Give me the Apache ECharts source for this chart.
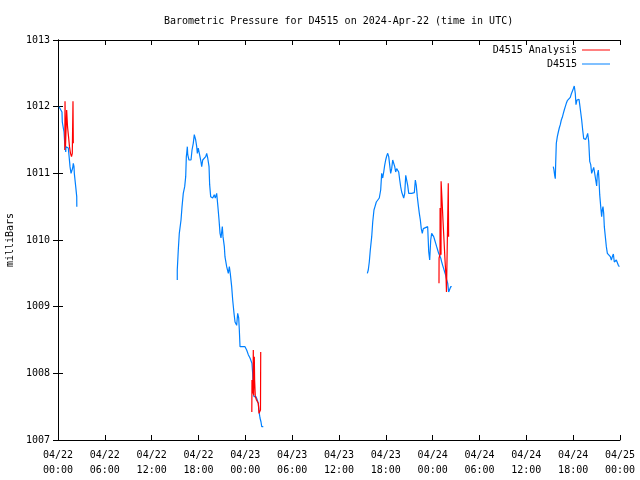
<!DOCTYPE html>
<html>
<head>
<meta charset="utf-8">
<script src="https://cdn.jsdelivr.net/npm/echarts@6/dist/echarts.min.js"></script>
<style>
html,body{margin:0;padding:0;background:#fff;}
#chart{width:640px;height:480px;}
</style>
</head>
<body>
<div id="chart"></div>
<script>
// Hours since 2024-04-22 00:00 UTC
const xTickLabels = ["04/22\n00:00","04/22\n06:00","04/22\n12:00","04/22\n18:00","04/23\n00:00","04/23\n06:00","04/23\n12:00","04/23\n18:00","04/24\n00:00","04/24\n06:00","04/24\n12:00","04/24\n18:00","04/25\n00:00"];
const yTicks = [1007,1008,1009,1010,1011,1012,1013];

// D4515 observed pressure, segment 1
const obsHours1 = [0.13,0.26,0.38,0.51,0.55,0.68,0.77,0.86,0.99,1.02,1.19,1.32,1.41,1.54,1.67,1.79,1.88,1.96,2.05,2.09,2.18,2.27,2.40,2.41];
const obsMbar1  = [1012.0,1012.0,1011.97,1011.92,1011.77,1011.68,1011.62,1011.45,1011.32,1011.4,1011.43,1011.38,1011.27,1011.1,1011.0,1011.0,1011.08,1011.15,1011.1,1011.0,1010.97,1010.8,1010.65,1010.5];

// segment 2
const obsHours2 = [15.28,15.28,15.41,15.54,15.76,15.89,16.05,16.23,16.36,16.44,16.49,16.57,16.62,16.78,17.04,17.17,17.33,17.46,17.59,17.64,17.77,17.85,17.97,18.10,18.19,18.32,18.41,18.54,18.70,18.92,19.05,19.18,19.35,19.43,19.56,19.69,19.82,20.02,20.15,20.33,20.50,20.63,20.76,20.88,20.97,21.05,21.14,21.31,21.39,21.61,21.82,21.95,22.07,22.25,22.38,22.46,22.55,22.68,22.89,23.02,23.15,23.23,23.32,23.96,24.17,24.38,24.60,24.85,24.94,25.02,25.11,25.37,25.53,25.66,25.79,25.88,26.01,26.10,26.30];
const obsMbar2  = [1009.4,1009.55,1009.85,1010.1,1010.3,1010.5,1010.7,1010.8,1010.95,1011.25,1011.3,1011.4,1011.28,1011.2,1011.2,1011.35,1011.45,1011.58,1011.6,1011.5,1011.4,1011.3,1011.38,1011.35,1011.25,1011.17,1011.1,1011.2,1011.22,1011.25,1011.3,1011.23,1011.1,1010.83,1010.65,1010.68,1010.63,1010.68,1010.63,1010.7,1010.48,1010.3,1010.1,1010.03,1010.12,1010.2,1010.05,1009.9,1009.75,1009.6,1009.5,1009.6,1009.5,1009.3,1009.1,1009.1,1008.9,1008.77,1008.72,1008.9,1008.83,1008.65,1008.4,1008.4,1008.35,1008.28,1008.23,1008.15,1008.0,1007.7,1007.65,1007.65,1007.6,1007.55,1007.4,1007.33,1007.27,1007.2,1007.2];

// segment 3
const obsHours3 = [39.63,39.75,39.88,40.01,40.19,40.32,40.48,40.61,40.78,40.91,41.03,41.16,41.34,41.47,41.60,41.73,41.85,41.98,42.11,42.24,42.37,42.50,42.62,42.75,42.88,43.01,43.14,43.26,43.39,43.52,43.65,43.78,43.90,44.03,44.16,44.29,44.42,44.55,44.67,44.80,44.93,45.31,45.65,45.78,45.90,46.03,46.16,46.29,46.42,46.54,46.67,46.80,46.93,47.36,47.49,47.62,47.75,47.87,48.00,48.13,48.26,48.39,48.51,48.64,48.77,48.90,49.03,49.16,49.28,49.41,49.54,49.67,49.80,49.93,50.05,50.18,50.31,50.44];
const obsMbar3  = [1009.5,1009.55,1009.67,1009.85,1010.05,1010.27,1010.45,1010.5,1010.57,1010.6,1010.55,1010.63,1010.75,1011.0,1010.93,1011.02,1011.12,1011.2,1011.26,1011.3,1011.25,1011.12,1011.0,1011.07,1011.2,1011.2,1011.1,1011.02,1011.07,1011.1,1011.02,1010.9,1010.8,1010.72,1010.7,1010.63,1010.7,1010.97,1011.0,1010.82,1010.7,1010.7,1010.71,1010.9,1010.82,1010.65,1010.52,1010.4,1010.3,1010.17,1010.1,1010.17,1010.2,1010.2,1009.83,1009.7,1010.0,1010.1,1010.07,1010.05,1010.0,1009.95,1009.9,1009.85,1009.8,1009.77,1009.73,1009.67,1009.62,1009.57,1009.52,1009.47,1009.4,1009.35,1009.22,1009.25,1009.3,1009.3];

// segment 4
const obsHours4 = [63.45,63.54,63.63,63.71,63.76,63.84,63.97,64.10,64.22,64.35,64.48,64.61,64.74,64.86,64.99,65.12,65.25,65.38,65.50,65.63,65.76,65.89,66.02,66.14,66.27,66.36,66.49,66.62,66.75,66.84,66.96,67.09,67.22,67.35,67.48,67.61,67.73,67.86,67.99,68.12,68.25,68.37,68.50,68.63,68.76,68.89,69.01,69.09,69.22,69.31,69.40,69.53,69.65,69.73,69.82,69.91,69.99,70.12,70.25,70.38,70.51,70.63,70.76,70.89,71.02,71.15,71.27,71.40,71.53,71.66,71.79,71.92];
const obsMbar4  = [1011.1,1011.05,1010.97,1010.92,1011.15,1011.45,1011.55,1011.62,1011.68,1011.73,1011.8,1011.84,1011.9,1011.95,1012.0,1012.05,1012.09,1012.11,1012.11,1012.14,1012.19,1012.22,1012.27,1012.31,1012.2,1012.03,1012.1,1012.07,1012.11,1012.03,1011.92,1011.8,1011.65,1011.52,1011.52,1011.51,1011.55,1011.6,1011.48,1011.18,1011.13,1011.0,1011.03,1011.09,1011.0,1010.9,1010.81,1010.97,1011.05,1010.9,1010.68,1010.5,1010.35,1010.45,1010.5,1010.4,1010.2,1010.05,1009.9,1009.8,1009.8,1009.79,1009.75,1009.7,1009.75,1009.79,1009.67,1009.65,1009.7,1009.67,1009.62,1009.6];

// D4515 Analysis
const anaHours1 = [0.87,0.90,0.96,1.11,1.22,1.35,1.47,1.60,1.73,1.83,1.92,1.96];
const anaMbar1  = [1011.35,1012.08,1011.4,1011.95,1011.7,1011.55,1011.4,1011.3,1011.25,1011.3,1012.08,1011.45];
const anaHours2 = [24.83,24.85,24.98,25.02,25.06,25.15,25.19,25.28,25.43,25.66,25.75,25.94,25.97];
const anaMbar2  = [1007.42,1007.9,1007.7,1008.35,1007.67,1008.25,1007.9,1007.65,1007.6,1007.55,1007.4,1007.45,1008.32];
const anaHours3 = [48.81,48.82,48.94,48.95,49.07,49.08,49.20,49.32,49.45,49.58,49.71,49.77,49.90,50.00,50.04];
const anaMbar3  = [1009.35,1009.73,1009.78,1010.48,1009.78,1010.88,1010.6,1010.3,1010.0,1009.7,1009.45,1009.22,1009.22,1010.85,1010.05];

function joinSegments(segs){
  const out = [];
  segs.forEach((s, i) => {
    if (i > 0) out.push([s[0][0] - 0.01, null]);
    s[0].forEach((h, k) => out.push([h, s[1][k]]));
  });
  return out;
}
const obsData = joinSegments([[obsHours1,obsMbar1],[obsHours2,obsMbar2],[obsHours3,obsMbar3],[obsHours4,obsMbar4]]);
const anaData = joinSegments([[anaHours1,anaMbar1],[anaHours2,anaMbar2],[anaHours3,anaMbar3]]);

const FONT = 'DejaVu Sans Mono';
const chart = echarts.init(document.getElementById('chart'), null, {renderer:'canvas'});
const axisLine = {show:true, lineStyle:{color:'#000', width:1}};
const tick = {show:true, inside:true, length:5, lineStyle:{color:'#000', width:1}};
chart.setOption({
  animation:false,
  backgroundColor:'#fff',
  title:{
    text:'Barometric Pressure for D4515 on 2024-Apr-22 (time in UTC)',
    left:159, top:11,
    textStyle:{fontFamily:FONT, fontSize:10, fontWeight:'normal', color:'#000'}
  },
  legend:{
    data:['D4515 Analysis','D4515'],
    orient:'vertical', align:'right',
    right:25, top:38, itemGap:0,
    itemWidth:28, itemHeight:1, icon:'rect',
    textStyle:{fontFamily:FONT, fontSize:10, color:'#000', lineHeight:14}
  },
  grid:{left:58, right:20, top:40, bottom:40, containLabel:false, outerBoundsMode:'none'},
  xAxis:[{
    type:'value', min:0, max:72, interval:6,
    axisLine:axisLine, axisTick:tick, splitLine:{show:false},
    axisLabel:{fontFamily:FONT, fontSize:10, color:'#000', margin:8, lineHeight:15,
      showMinLabel:true, showMaxLabel:true,
      formatter:(v)=>xTickLabels[Math.round(v/6)]}
  },{
    type:'value', min:0, max:72, interval:6, position:'top',
    axisLine:axisLine, axisTick:tick, splitLine:{show:false}, axisLabel:{show:false}
  }],
  yAxis:[{
    type:'value', min:yTicks[0], max:yTicks[yTicks.length-1], interval:1,
    name:'milliBars', nameLocation:'middle', nameGap:43, nameRotate:90,
    nameTextStyle:{fontFamily:FONT, fontSize:10, color:'#000'},
    axisLine:axisLine, axisTick:tick, splitLine:{show:false},
    axisLabel:{fontFamily:FONT, fontSize:10, color:'#000', margin:8,
      showMinLabel:true, showMaxLabel:true, formatter:(v)=>String(v)}
  },{
    type:'value', min:yTicks[0], max:yTicks[yTicks.length-1], interval:1, position:'right',
    axisLine:axisLine, axisTick:tick, splitLine:{show:false}, axisLabel:{show:false}
  }],
  series:[{
    name:'D4515', type:'line', data:obsData, symbol:'none', showSymbol:false,
    connectNulls:false, color:'#0080ff', lineStyle:{width:1.2, color:'#0080ff'}, z:2
  },{
    name:'D4515 Analysis', type:'line', data:anaData, symbol:'none', showSymbol:false,
    connectNulls:false, color:'#ff0000', lineStyle:{width:1.2, color:'#ff0000'}, z:3
  }]
});
</script>
</body>
</html>
